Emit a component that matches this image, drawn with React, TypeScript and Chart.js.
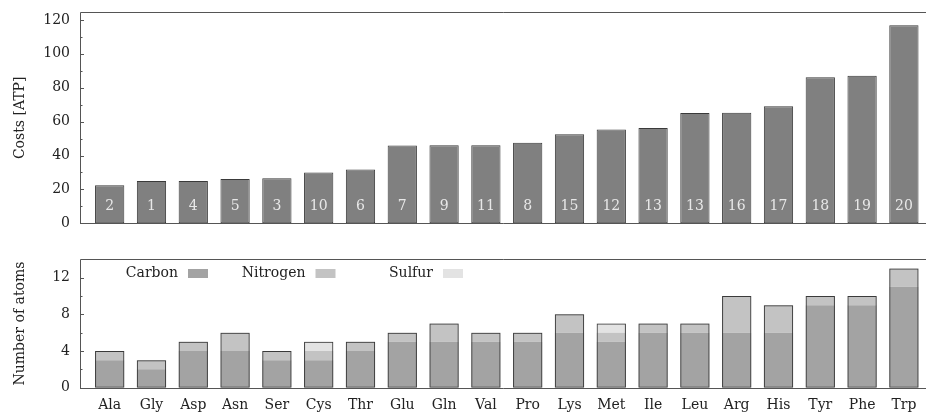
import React, { useEffect, useRef } from "react";
import { Chart, registerables } from "chart.js";

Chart.register(...registerables);

const aminoAcids = ["Ala", "Gly", "Asp", "Asn", "Ser", "Cys", "Thr", "Glu", "Gln", "Val", "Pro", "Lys", "Met", "Ile", "Leu", "Arg", "His", "Tyr", "Phe", "Trp"];
const costsATP = [22.5, 25, 25, 26.1, 26.6, 30, 31.8, 45.9, 46.1, 46.1, 47.6, 52.5, 55.3, 56.2, 65.1, 65.3, 69, 86.2, 87.1, 116.8];
const costRanks = [2, 1, 4, 5, 3, 10, 6, 7, 9, 11, 8, 15, 12, 13, 13, 16, 17, 18, 19, 20];
const carbonAtoms = [3, 2, 4, 4, 3, 3, 4, 5, 5, 5, 5, 6, 5, 6, 6, 6, 6, 9, 9, 11];
const nitrogenAtoms = [1, 1, 1, 2, 1, 1, 1, 1, 2, 1, 1, 2, 1, 1, 1, 4, 3, 1, 1, 2];
const sulfurAtoms = [0, 0, 0, 0, 0, 1, 0, 0, 0, 0, 0, 0, 1, 0, 0, 0, 0, 0, 0, 0];
const costTicks = [0, 20, 40, 60, 80, 100, 120];
const atomTicks = [0, 4, 8, 12];
const atomLegend = ["Carbon", "Nitrogen", "Sulfur"];

const FONT = "'DejaVu Serif', 'Liberation Serif', serif";
const TEXT = "#222222";
const FRAME = "#555555";
const BAR_EDGE = "#3a3a3a";
const COST_FILL = "#808080";
const ATOM_COLORS = ["#a3a3a3", "#c3c3c3", "#e3e3e3"];

const font = { family: FONT, size: 14 };

function frameAndTicks(majors: number[]) {
  return {
    id: "frameAndTicks",
    afterDatasetsDraw(chart: any) {
      const { ctx, chartArea: a, width } = chart;
      const y = chart.scales.y;
      ctx.save();
      ctx.strokeStyle = FRAME;
      ctx.lineWidth = 1;
      ctx.beginPath();
      ctx.moveTo(width, Math.round(a.top) + 0.5);
      ctx.lineTo(Math.round(a.left) + 0.5, Math.round(a.top) + 0.5);
      ctx.lineTo(Math.round(a.left) + 0.5, Math.round(a.bottom) + 0.5);
      ctx.lineTo(width, Math.round(a.bottom) + 0.5);
      ctx.stroke();
      // major and minor tick marks (inward)
      ctx.beginPath();
      majors.forEach((v, i) => {
        const py = Math.round(y.getPixelForValue(v)) + 0.5;
        ctx.moveTo(a.left, py);
        ctx.lineTo(a.left + 4, py);
        if (i < majors.length - 1) {
          const mv = (v + majors[i + 1]) / 2;
          const my = Math.round(y.getPixelForValue(mv)) + 0.5;
          ctx.moveTo(a.left, my);
          ctx.lineTo(a.left + 2.5, my);
        }
      });
      const last = majors[majors.length - 1];
      const step = majors[1] - majors[0];
      if (last + step / 2 < y.max) {
        const my = Math.round(y.getPixelForValue(last + step / 2)) + 0.5;
        ctx.moveTo(a.left, my);
        ctx.lineTo(a.left + 2.5, my);
      }
      ctx.stroke();
      ctx.restore();
    },
  };
}

const rankLabels = {
  id: "rankLabels",
  afterDatasetsDraw(chart: any) {
    const { ctx } = chart;
    const meta = chart.getDatasetMeta(0);
    const base = chart.scales.y.getPixelForValue(0);
    ctx.save();
    ctx.fillStyle = "#e8e8e8";
    ctx.font = `14px ${FONT}`;
    ctx.textAlign = "center";
    ctx.textBaseline = "alphabetic";
    meta.data.forEach((bar: any, i: number) => {
      ctx.fillText(String(costRanks[i]), bar.x, base - 13);
    });
    ctx.restore();
  },
};

const atomLegendPlugin = {
  id: "atomLegend",
  afterDraw(chart: any) {
    const { ctx, chartArea: a } = chart;
    ctx.save();
    ctx.font = `14px ${FONT}`;
    ctx.textAlign = "right";
    ctx.textBaseline = "middle";
    const cy = a.top + 14.2;
    atomLegend.forEach((name, i) => {
      const sx = a.left + 108 + i * 127.5;
      ctx.fillStyle = ATOM_COLORS[i];
      ctx.fillRect(sx, cy - 4.5, 20, 9);
      ctx.fillStyle = TEXT;
      ctx.fillText(name, sx - 10, cy);
    });
    ctx.restore();
  },
};

function xScale(showLabels: boolean, height: number) {
  return {
    type: "linear",
    min: -0.71,
    max: 19.5,
    offset: false,
    grid: { display: false, drawTicks: false },
    border: { display: false },
    afterBuildTicks: (s: any) => {
      s.ticks = aminoAcids.map((_, i) => ({ value: i }));
    },
    afterFit: (s: any) => {
      s.height = height;
      s.paddingLeft = 0;
      s.paddingRight = 0;
      s.paddingTop = 0;
      s.paddingBottom = 0;
    },
    ticks: {
      display: showLabels,
      autoSkip: false,
      maxRotation: 0,
      padding: 9,
      font,
      color: TEXT,
      callback: (v: any) => aminoAcids[v] ?? "",
    },
  };
}

function yScale(max: number, ticks: number[], title: string, stacked: boolean) {
  return {
    type: "linear",
    min: 0,
    max,
    stacked,
    grid: { display: false, drawTicks: false },
    border: { display: false },
    afterBuildTicks: (s: any) => {
      s.ticks = ticks.map((v) => ({ value: v }));
    },
    afterFit: (s: any) => {
      s.width = 80;
      s.paddingTop = 0;
      s.paddingBottom = 0;
      s.paddingLeft = 0;
      s.paddingRight = 0;
    },
    ticks: { padding: 10, font, color: TEXT },
    title: { display: true, text: title, font, color: TEXT, padding: { top: 11.5, bottom: 0 } },
  };
}

export default function App() {
  const topRef = useRef<HTMLCanvasElement>(null);
  const botRef = useRef<HTMLCanvasElement>(null);

  useEffect(() => {
    const c1 = new Chart(topRef.current as HTMLCanvasElement, {
      type: "bar",
      data: {
        datasets: [
          {
            label: "Costs",
            data: costsATP.map((v, i) => ({ x: i, y: v })),
            backgroundColor: COST_FILL,
            borderColor: BAR_EDGE,
            borderWidth: 1,
            borderSkipped: false,
            categoryPercentage: 1,
            barPercentage: 0.7,
          },
        ],
      },
      options: {
        animation: false,
        responsive: false,
        maintainAspectRatio: false,
        layout: { padding: { top: 12.3, right: 1.2, left: 0, bottom: 0 } },
        plugins: { legend: { display: false }, tooltip: { enabled: false } },
        scales: {
          x: xScale(false, 11.7),
          y: yScale(124.5, costTicks, "Costs [ATP]", false),
        },
      } as any,
      plugins: [frameAndTicks(costTicks), rankLabels],
    } as any);

    const totals = carbonAtoms.map((c, i) => c + nitrogenAtoms[i] + sulfurAtoms[i]);
    const common = { grouped: false, categoryPercentage: 1, barPercentage: 0.7, borderWidth: 0 };
    const c2 = new Chart(botRef.current as HTMLCanvasElement, {
      type: "bar",
      data: {
        datasets: [
          {
            ...common,
            label: "outline",
            stack: "outline",
            data: totals.map((v, i) => ({ x: i, y: v })),
            backgroundColor: "rgba(0,0,0,0)",
            borderColor: BAR_EDGE,
            borderWidth: 1,
            borderSkipped: false,
          },
          {
            ...common,
            label: atomLegend[0],
            stack: "atoms",
            data: carbonAtoms.map((v, i) => ({ x: i, y: v })),
            backgroundColor: ATOM_COLORS[0],
          },
          {
            ...common,
            label: atomLegend[1],
            stack: "atoms",
            data: nitrogenAtoms.map((v, i) => ({ x: i, y: v })),
            backgroundColor: ATOM_COLORS[1],
          },
          {
            ...common,
            label: atomLegend[2],
            stack: "atoms",
            data: sulfurAtoms.map((v, i) => ({ x: i, y: v })),
            backgroundColor: ATOM_COLORS[2],
          },
        ],
      },
      options: {
        animation: false,
        responsive: false,
        maintainAspectRatio: false,
        layout: { padding: { top: 24.3, right: 1.2, left: 0, bottom: 0 } },
        plugins: { legend: { display: false }, tooltip: { enabled: false } },
        scales: {
          x: xScale(true, 24.3),
          y: yScale(14, atomTicks, "Number of atoms", true),
        },
      } as any,
      plugins: [frameAndTicks(atomTicks), atomLegendPlugin],
    } as any);

    return () => {
      c1.destroy();
      c2.destroy();
    };
  }, []);

  return (
    <div style={{ position: "absolute", left: 0, top: 0, width: 926, height: 412, background: "#fff", overflow: "hidden" }}>
      <canvas ref={topRef} width={926} height={235} style={{ display: "block", width: 926, height: 235 }} />
      <canvas ref={botRef} width={926} height={177} style={{ display: "block", width: 926, height: 177 }} />
    </div>
  );
}
